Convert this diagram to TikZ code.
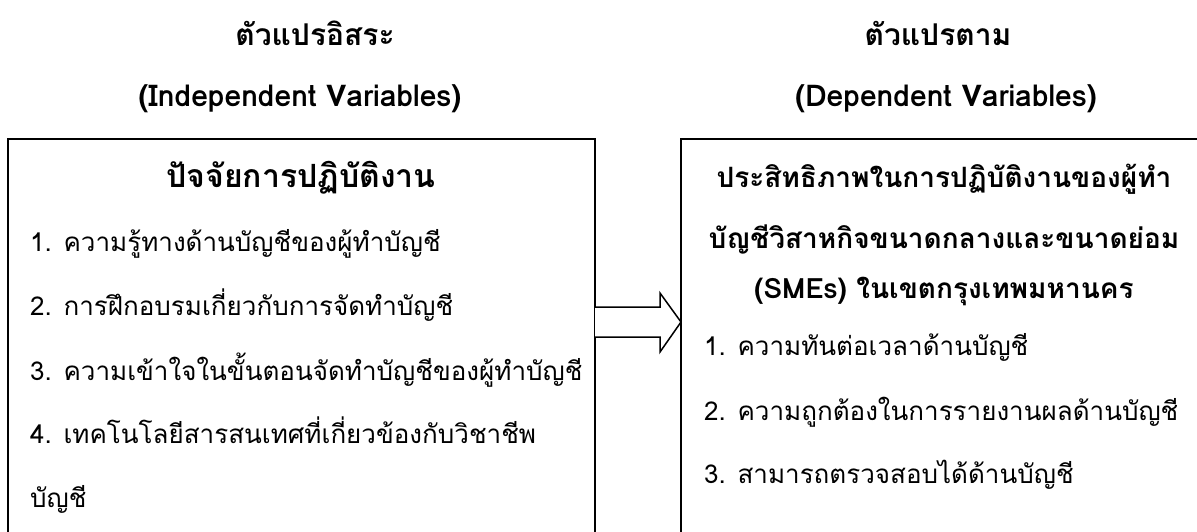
\documentclass[tikz,border=0pt]{standalone}
\usepackage{fontspec}
\newfontfamily\thai[Script=Thai]{Loma}
\usetikzlibrary{calc}
\tikzset{
  box/.style={draw=black, line width=1.5pt, fill=none, inner sep=0pt},
  title/.style={font=\thai\bfseries\fontsize{30}{34}\selectfont, anchor=base, inner sep=0pt},
  head/.style={font=\thai\bfseries\fontsize{28}{32}\selectfont, anchor=base, inner sep=0pt},
  item/.style={font=\thai\fontsize{26}{30}\selectfont, anchor=base west, inner sep=0pt},
  blockarrow/.style={draw=black, line width=1.5pt, fill=white, line join=miter}
}
\begin{document}
\begin{tikzpicture}[x=1pt,y=-1pt]
\useasboundingbox (0,0) rectangle (1197,531);
% titles
\node[title] (t1) at (315,45) {ตัวแปรอิสระ};
\node[title] (t2) at (300,106) {(Independent Variables)};
\node[title] (t3) at (938,45) {ตัวแปรตาม};
\node[title] (t4) at (946,106) {(Dependent Variables)};
% boxes
\draw[box] (8,139) coordinate (LTL) rectangle (595,570) coordinate (LBR);
\draw[box] (681,139) coordinate (RTL) rectangle (1210,570) coordinate (RBR);
% left box text
\node[head, font=\thai\bfseries\fontsize{32}{36}\selectfont] (lh) at (301,187) {ปัจจัยการปฏิบัติงาน};
\node[item] (l1) at (30,251) {1. ความรู้ทางด้านบัญชีของผู้ทำบัญชี};
\node[item] (l2) at (30,315) {2. การฝึกอบรมเกี่ยวกับการจัดทำบัญชี};
\node[item] (l3) at (30,380) {3. ความเข้าใจในขั้นตอนจัดทำบัญชีของผู้ทำบัญชี};
\node[item] (l4) at (30,443) {4. เทคโนโลยีสารสนเทศที่เกี่ยวข้องกับวิชาชีพ};
\node[item] (l5) at (30,507) {บัญชี};
% right box text
\node[head] (rh1) at (944,187) {ประสิทธิภาพในการปฏิบัติงานของผู้ทำ};
\node[head] (rh2) at (944,248) {บัญชีวิสาหกิจขนาดกลางและขนาดย่อม};
\node[head] (rh3) at (944,298) {(SMEs) ในเขตกรุงเทพมหานคร};
\node[item] (r1) at (704,355) {1. ความทันต่อเวลาด้านบัญชี};
\node[item] (r2) at (704,420) {2. ความถูกต้องในการรายงานผลด้านบัญชี};
\node[item] (r3) at (704,483) {3. สามารถตรวจสอบได้ด้านบัญชี};
% block arrow
\coordinate (as) at (595,322);
\coordinate (at) at (681,322);
\draw[blockarrow] ($(as)+(0,-15)$) -- ($(at)+(-21,-15)$) -- ($(at)+(-21,-29)$) -- (at)
  -- ($(at)+(-21,30)$) -- ($(at)+(-21,15)$) -- ($(as)+(0,15)$);
\end{tikzpicture}
\end{document}
